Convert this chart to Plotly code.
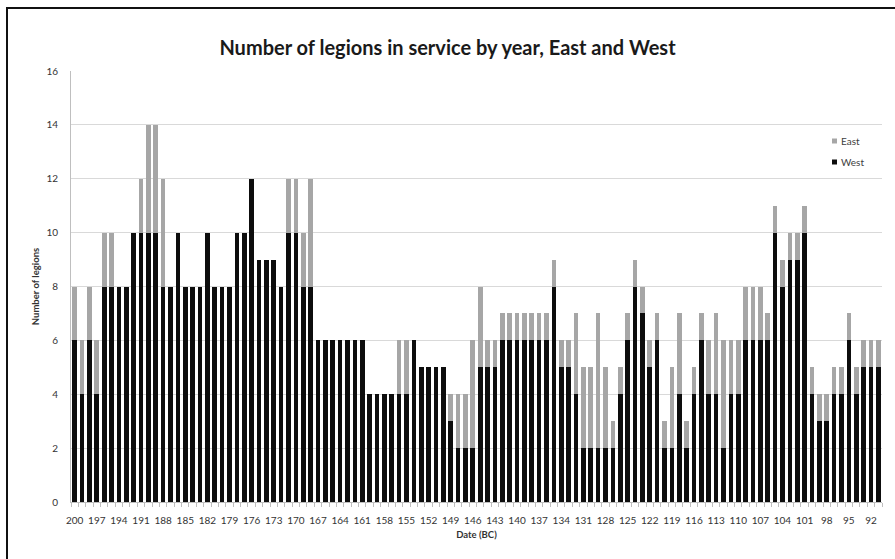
import plotly.graph_objects as go

years = list(range(200, 90, -1))  # 200 BC .. 91 BC

west = [6, 4, 6, 4, 8, 8, 8, 8, 10, 10,
        10, 10, 8, 8, 10, 8, 8, 8, 10, 8,
        8, 8, 10, 10, 12, 9, 9, 9, 8, 10,
        10, 8, 8, 6, 6, 6, 6, 6, 6, 6,
        4, 4, 4, 4, 4, 4, 6, 5, 5, 5,
        5, 3, 2, 2, 2, 5, 5, 5, 6, 6,
        6, 6, 6, 6, 6, 8, 5, 5, 4, 2,
        2, 2, 2, 2, 4, 6, 8, 7, 5, 6,
        2, 2, 4, 2, 4, 6, 4, 4, 2, 4,
        4, 6, 6, 6, 6, 10, 8, 9, 9, 10,
        4, 3, 3, 4, 4, 6, 4, 5, 5, 5]

east = [2, 2, 2, 2, 2, 2, 0, 0, 0, 2,
        4, 4, 4, 0, 0, 0, 0, 0, 0, 0,
        0, 0, 0, 0, 0, 0, 0, 0, 0, 2,
        2, 2, 4, 0, 0, 0, 0, 0, 0, 0,
        0, 0, 0, 0, 2, 2, 0, 0, 0, 0,
        0, 1, 2, 2, 4, 3, 1, 1, 1, 1,
        1, 1, 1, 1, 1, 1, 1, 1, 3, 3,
        3, 5, 3, 1, 1, 1, 1, 1, 1, 1,
        1, 3, 3, 1, 1, 1, 2, 3, 4, 2,
        2, 2, 2, 2, 1, 1, 1, 1, 1, 1,
        1, 1, 1, 1, 1, 1, 1, 1, 1, 1]

tick_years = list(range(200, 91, -3))
y_ticks = list(range(0, 17, 2))

WEST_COLOR = "#0d0d0d"
EAST_COLOR = "#a6a6a6"
FONT = "Lato"

W, H = 895, 559
L, R, T, B = 71, 13, 71, 57
PW, PH = W - L - R, H - T - B


def px(x):
    return (x - L) / PW


def py(y):
    return (H - B - y) / PH


fig = go.Figure()
fig.add_trace(go.Bar(x=years, y=west, name="West", marker=dict(color=WEST_COLOR, line=dict(width=0))))
fig.add_trace(go.Bar(x=years, y=east, name="East", marker=dict(color=EAST_COLOR, line=dict(width=0))))

shapes = [
    # chart border (left and top visible)
    dict(type="rect", xref="paper", yref="paper",
         x0=px(7), x1=px(905), y0=py(8), y1=py(570),
         line=dict(color="#111111", width=2), fillcolor="rgba(0,0,0,0)", layer="above"),
    # legend swatches
    dict(type="rect", xref="paper", yref="paper",
         x0=px(832), x1=px(837), y0=py(138.5), y1=py(143.5),
         line=dict(width=0), fillcolor=EAST_COLOR),
    dict(type="rect", xref="paper", yref="paper",
         x0=px(832), x1=px(837), y0=py(159.5), y1=py(164.5),
         line=dict(width=0), fillcolor=WEST_COLOR),
]

annotations = [
    dict(text="East", xref="paper", yref="paper", x=px(839), y=py(141),
         xanchor="left", yanchor="middle", showarrow=False,
         font=dict(family=FONT, size=10, color="#404040")),
    dict(text="West", xref="paper", yref="paper", x=px(839), y=py(162),
         xanchor="left", yanchor="middle", showarrow=False,
         font=dict(family=FONT, size=10, color="#404040")),
]

fig.update_layout(
    width=W, height=H,
    margin=dict(l=L, r=R, t=T, b=B, pad=0),
    barmode="stack",
    bargap=0.37,
    showlegend=False,
    paper_bgcolor="white",
    plot_bgcolor="white",
    font=dict(family=FONT, color="#333333"),
    title=dict(text="<b>Number of legions in service by year, East and West</b>",
               x=0.5, xanchor="center", y=1 - 48 / H, yanchor="middle",
               font=dict(family=FONT, size=20, color="#1a1a1a")),
    xaxis=dict(
        range=[200.5, 90.5],
        tickmode="array", tickvals=tick_years, ticktext=[str(t) for t in tick_years],
        ticks="", tickfont=dict(family=FONT, size=10, color="#333333"),
        ticklabelstandoff=9,
        showgrid=False, zeroline=False,
        showline=True, linecolor="#bfbfbf", linewidth=1,
        minor=dict(ticks="outside", tick0=0.5, dtick=1, ticklen=4, tickcolor="#bfbfbf", showgrid=False),
        title=dict(text="<b>Date (BC)</b>", font=dict(family=FONT, size=9.5, color="#333333"), standoff=6),
    ),
    yaxis=dict(
        range=[0, 16], tickmode="array", tickvals=y_ticks,
        ticks="", tickfont=dict(family=FONT, size=10, color="#333333"),
        ticklabelstandoff=10,
        showgrid=True, gridcolor="#d9d9d9", gridwidth=1,
        zeroline=False,
        showline=True, linecolor="#bfbfbf", linewidth=1,
        title=dict(text="<b>Number of legions</b>", font=dict(family=FONT, size=9.5, color="#333333"), standoff=5),
    ),
    shapes=shapes,
    annotations=annotations,
)

fig.write_html("out.html", config={"displayModeBar": False},
               post_script="document.body.style.margin='0px';document.body.style.padding='0px';")
